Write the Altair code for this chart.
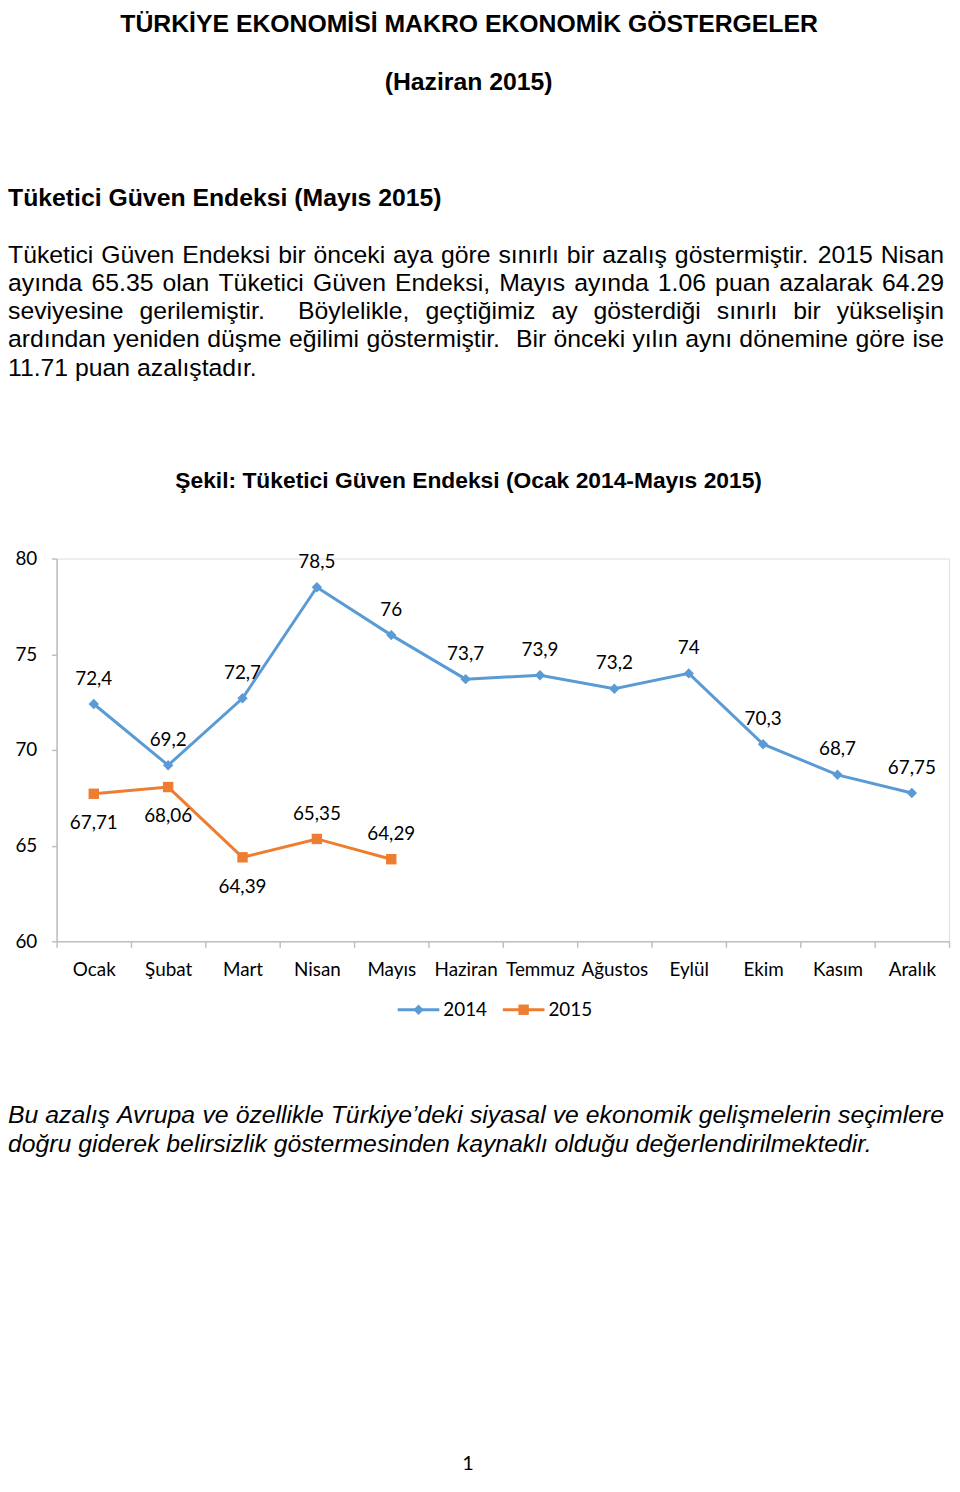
import re
import altair as alt
import pandas as pd

# ---------------- data ----------------
months = ["Ocak", "Şubat", "Mart", "Nisan", "Mayıs", "Haziran",
          "Temmuz", "Ağustos", "Eylül", "Ekim", "Kasım", "Aralık"]
values_2014 = [72.4, 69.2, 72.7, 78.5, 76, 73.7, 73.9, 73.2, 74, 70.3, 68.7, 67.75]
values_2015 = [67.71, 68.06, 64.39, 65.35, 64.29]
years = ["2014", "2015"]
y_ticks = [60, 65, 70, 75, 80]
labels_below_2015 = ["Ocak", "Şubat", "Mart"]

heading_lines = ["TÜRKİYE EKONOMİSİ MAKRO EKONOMİK GÖSTERGELER", "(Haziran 2015)"]
section_title = "Tüketici Güven Endeksi (Mayıs 2015)"
paragraph_lines = [
    "Tüketici Güven Endeksi bir önceki aya göre sınırlı bir azalış göstermiştir. 2015 Nisan",
    "ayında 65.35 olan Tüketici Güven Endeksi, Mayıs ayında 1.06 puan azalarak 64.29",
    "seviyesine gerilemiştir.  Böylelikle, geçtiğimiz ay gösterdiği sınırlı bir yükselişin",
    "ardından yeniden düşme eğilimi göstermiştir.  Bir önceki yılın aynı dönemine göre ise",
    "11.71 puan azalıştadır.",
]
chart_title = "Şekil: Tüketici Güven Endeksi (Ocak 2014-Mayıs 2015)"
closing_lines = [
    "Bu azalış Avrupa ve özellikle Türkiye’deki siyasal ve ekonomik gelişmelerin seçimlere",
    "doğru giderek belirsizlik göstermesinden kaynaklı olduğu değerlendirilmektedir.",
]
page_number = "1"

# ---------------- layout / style ----------------
BLUE, ORANGE, GREY = "#5B9BD5", "#ED7D31", "#BFBFBF"
DOC_FONT = "Liberation Sans"
CHART_FONT = "Lato"
CHART_FS = 19
PLOT_X0, PLOT_Y0 = 57, 557      # page position of the plot area
PLOT_W, PLOT_H = 900, 386
SVG_W, SVG_H = 952, 1470
PAD = {"left": PLOT_X0 - 8, "top": PLOT_Y0 - 8,
       "right": SVG_W - (PLOT_X0 - 8) - PLOT_W,
       "bottom": SVG_H - (PLOT_Y0 - 8) - PLOT_H}
LEG_X0, LEG_STEP, LEG_LINE, LEG_GAP, LEG_Y = 401, 106, 42, 4, 1012
LABEL_UP, LABEL_DOWN = -25.5, 29.5


def px(x):
    return x - PLOT_X0


def py(y):
    return y - PLOT_Y0


# Arial / Liberation Sans advance widths (1/1000 em) used for justification
_W = {' ': 278, ',': 278, '.': 278, ':': 278, '-': 333, '(': 333, ')': 333, '’': 222, "'": 191}
_W.update({d: 556 for d in "0123456789"})
_W.update(dict(zip("ABCDEFGHIJKLMNOPQRSTUVWXYZ",
                   [667, 667, 722, 722, 667, 611, 778, 722, 278, 500, 667, 556, 833,
                    722, 778, 667, 778, 722, 667, 611, 722, 667, 944, 667, 667, 611])))
_W.update(dict(zip("abcdefghijklmnopqrstuvwxyz",
                   [556, 556, 500, 556, 556, 278, 556, 556, 222, 222, 500, 222, 833,
                    556, 556, 556, 556, 333, 500, 278, 556, 500, 722, 500, 500, 500])))
_W.update({'ı': 278, 'ş': 500, 'ğ': 556, 'ü': 556, 'ö': 556, 'ç': 500,
           'Ş': 667, 'Ğ': 778, 'Ü': 722, 'Ö': 778, 'Ç': 722, 'İ': 278})


def text_width(s, size):
    return sum(_W.get(c, 556) for c in s) * size / 1000.0


def justified(lines, x0, width, y0, lh, size):
    rows = []
    for i, line in enumerate(lines):
        y = y0 + i * lh
        if i == len(lines) - 1:
            rows.append({"t": line, "x": x0, "y": y})
            continue
        tokens = re.split(r"( +)", line)
        words = [t for t in tokens if t and not t.startswith(" ")]
        n_spaces = sum(len(t) for t in tokens if t.startswith(" "))
        gap = (width - sum(text_width(w, size) for w in words)) / n_spaces
        x = x0
        for t in tokens:
            if not t:
                continue
            if t.startswith(" "):
                x += gap * len(t)
            else:
                rows.append({"t": t, "x": x, "y": y})
                x += text_width(t, size)
    return pd.DataFrame(rows)


def text_layer(df, **mark):
    return alt.Chart(df).mark_text(**mark).encode(
        x=alt.X("x:Q", scale=None, axis=None),
        y=alt.Y("y:Q", scale=None, axis=None),
        text="t:N",
    )


# ---------------- document text ----------------
headings = pd.DataFrame({"t": heading_lines, "x": [px(473), px(472.5)], "y": [py(26), py(84)]})
section = pd.DataFrame({"t": [section_title], "x": [px(8)], "y": [py(201)]})
para = justified(paragraph_lines, px(8), 944, py(258.5), 28.5, 25)
ctitle = pd.DataFrame({"t": [chart_title], "x": [px(472.5)], "y": [py(486)]})
closing = justified(closing_lines, px(8), 944, py(1126), 29, 25)
pnum = pd.DataFrame({"t": [page_number], "x": [px(472)], "y": [py(1476)]})

doc_layers = [
    text_layer(headings, font=DOC_FONT, fontSize=25, fontWeight="bold", align="center",
               baseline="alphabetic", color="black"),
    text_layer(section, font=DOC_FONT, fontSize=25, fontWeight="bold", align="left",
               baseline="alphabetic", color="black"),
    text_layer(para, font=DOC_FONT, fontSize=25, align="left", baseline="alphabetic", color="black"),
    text_layer(ctitle, font=DOC_FONT, fontSize=23, fontWeight="bold", align="center",
               baseline="alphabetic", color="black"),
    text_layer(closing, font=DOC_FONT, fontSize=25, fontStyle="italic", align="left",
               baseline="alphabetic", color="black"),
    text_layer(pnum, font=CHART_FONT, fontSize=20, align="center", baseline="alphabetic",
               color="black"),
]

# ---------------- chart ----------------
rows = [{"month": m, "year": "2014", "value": v} for m, v in zip(months, values_2014)]
rows += [{"month": m, "year": "2015", "value": v} for m, v in zip(months, values_2015)]
df = pd.DataFrame(rows)

x_enc = alt.X("month:N", sort=months,
              scale=alt.Scale(type="band", domain=months, paddingInner=0, paddingOuter=0),
              axis=alt.Axis(title=None, labelAngle=0, tickBand="extent", tickSize=6,
                            labelPadding=13, domainColor=GREY, tickColor=GREY,
                            domainWidth=1.5, tickWidth=1.5, grid=False,
                            labelFont=CHART_FONT, labelFontSize=CHART_FS, labelColor="black"))
y_enc = alt.Y("value:Q", scale=alt.Scale(domain=[60, 80], nice=False, zero=False),
              axis=alt.Axis(title=None, values=y_ticks, grid=False, tickSize=5, labelPadding=15,
                            domainColor=GREY, tickColor=GREY, domainWidth=1.5, tickWidth=1.5,
                            labelFont=CHART_FONT, labelFontSize=CHART_FS, labelColor="black"))
color_enc = alt.Color("year:N", scale=alt.Scale(domain=years, range=[BLUE, ORANGE]), legend=None)
shape_enc = alt.Shape("year:N", scale=alt.Scale(domain=years, range=["diamond", "square"]),
                      legend=None)

base = alt.Chart(df).encode(x=x_enc, y=y_enc, color=color_enc)

lines = base.mark_line(strokeWidth=3)
pts = base.mark_point(filled=True, size=110, opacity=1).encode(shape=shape_enc)

lab = base.transform_calculate(label="replace(toString(datum.value), '.', ',')")
tstyle = dict(font=CHART_FONT, fontSize=CHART_FS, baseline="middle", align="center")
txt14 = lab.transform_filter(alt.datum.year == "2014").mark_text(dy=LABEL_UP, **tstyle).encode(
    text="label:N", color=alt.value("black"))
below = alt.FieldOneOfPredicate(field="month", oneOf=labels_below_2015)
txt15b = lab.transform_filter(alt.datum.year == "2015").transform_filter(below).mark_text(
    dy=LABEL_DOWN, **tstyle).encode(text="label:N", color=alt.value("black"))
txt15a = lab.transform_filter(alt.datum.year == "2015").transform_filter(
    {"not": below}).mark_text(dy=LABEL_UP, **tstyle).encode(text="label:N", color=alt.value("black"))

# legend: line with marker for each series, then the series name
leg_df = pd.DataFrame({"year": years})
leg_df["x"] = [px(LEG_X0 + i * LEG_STEP) for i in range(len(years))]
leg_df["x2"] = leg_df["x"] + LEG_LINE
leg_df["xm"] = leg_df["x"] + LEG_LINE / 2
leg_df["xt"] = leg_df["x2"] + LEG_GAP
leg_base = alt.Chart(leg_df)
leg_y = alt.value(py(LEG_Y))
leg_rule = leg_base.mark_rule(strokeWidth=3).encode(
    x=alt.X("x:Q", scale=None, axis=None), x2="x2:Q", y=leg_y, color=color_enc)
leg_pts = leg_base.mark_point(filled=True, size=110, opacity=1).encode(
    x=alt.X("xm:Q", scale=None, axis=None), y=leg_y, color=color_enc, shape=shape_enc)
leg_txt = leg_base.mark_text(font=CHART_FONT, fontSize=CHART_FS, align="left",
                             baseline="middle", color="black").encode(
    x=alt.X("xt:Q", scale=None, axis=None), y=leg_y, text="year:N")

chart = alt.layer(
    lines, pts, txt14, txt15b, txt15a, leg_rule, leg_pts, leg_txt, *doc_layers
).properties(
    width=PLOT_W, height=PLOT_H,
    autosize=alt.AutoSizeParams(type="none"),
    padding=PAD,
).configure_view(stroke=None).configure(background="white")

chart.save("out.html", embed_options={"renderer": "svg", "actions": False})
